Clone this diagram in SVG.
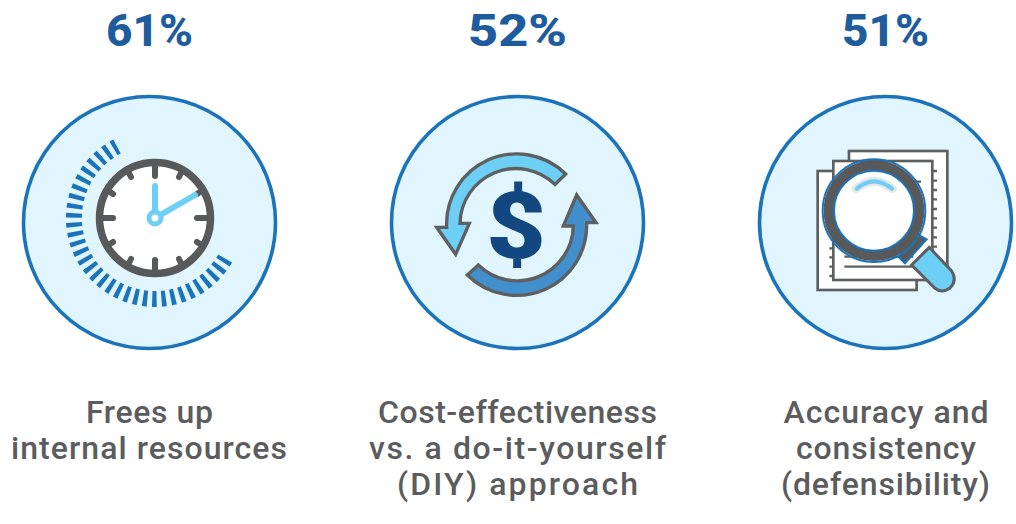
<svg xmlns="http://www.w3.org/2000/svg" width="1016" height="524" viewBox="0 0 1016 524">
<style>
.pct{font-family:Roboto,"Liberation Sans",sans-serif;font-weight:800;font-size:44px;fill:#1f5c9e;text-anchor:middle}
.lbl{font-family:Roboto,"Liberation Sans",sans-serif;font-weight:500;font-size:32px;fill:#5b5c5e;text-anchor:middle}
.disc{fill:#e0f5fd;stroke:#1a73bb;stroke-width:3.6}
.arrow{stroke:#5d5f61;stroke-width:10;stroke-linejoin:miter}
.paper{fill:#fff;stroke:#5d5f61;stroke-width:8}
.ln{stroke:#5d5f61;stroke-width:7;fill:none}
</style>
<rect width="1016" height="524" fill="#fff"/>
<g id="node-resources">
<text class="pct" x="149.500" y="46" textLength="87" lengthAdjust="spacingAndGlyphs">61%</text>
<circle class="disc" cx="149.500" cy="222.500" r="126"/>
<path d="M225.100 258.500A81 81 0 1 1 117 146.500" fill="none" stroke="#1a73bb" stroke-width="16" stroke-dasharray="4.4 4.83"/>
<circle cx="155" cy="218" r="55.500" fill="#fff" stroke="#58595b" stroke-width="7.500"/>
<g stroke="#58595b" stroke-width="6" stroke-linecap="round" fill="none">
<path d="M155 166V176M155 260V270M103 218H113M197 218H207"/>
<path d="M129 173L131 177M181 173L179 177M110 192L113 194M200 192L197 194M110 244L113 242M200 244L197 242M129 263L131 259M181 263L179 259"/>
</g>
<path d="M155 186V218L195 195" fill="none" stroke="#6dcff6" stroke-width="6" stroke-linecap="round"/>
<circle cx="155" cy="218" r="6" fill="#fff" stroke="#6dcff6" stroke-width="5"/>
<text class="lbl" x="149.500" y="423" textLength="127" lengthAdjust="spacing">Frees up</text>
<text class="lbl" x="149" y="459" textLength="276" lengthAdjust="spacing">internal resources</text>
</g>
<g id="node-cost">
<text class="pct" x="517.500" y="46" textLength="99" lengthAdjust="spacingAndGlyphs">52%</text>
<circle class="disc" cx="517.500" cy="222.500" r="126"/>
<g transform="translate(420 140) scale(.3333)">
<path class="arrow" fill="#6dcff6" d="M437 102L405 133A168 168 0 0 0 120 250H148L107 343L50 262H80A210 210 0 0 1 437 102Z"/>
<path class="arrow" fill="#418fcc" d="M142 405L175 375A168 168 0 0 0 460 258H430L470 165L528 248H500A210 210 0 0 1 142 405Z"/>
</g>
<text transform="translate(516.200 258) scale(1.12 1)" font-family="Roboto,'Liberation Sans',sans-serif" font-weight="900" font-size="92" fill="#12487f" text-anchor="middle">$</text>
<text class="lbl" x="517.500" y="423" textLength="279" lengthAdjust="spacing">Cost-effectiveness</text>
<text class="lbl" x="517.500" y="459" textLength="297" lengthAdjust="spacing">vs. a do-it-yourself</text>
<text class="lbl" x="517.500" y="495" textLength="241" lengthAdjust="spacing">(DIY) approach</text>
</g>
<g id="node-accuracy">
<text class="pct" x="885.500" y="46" textLength="87" lengthAdjust="spacingAndGlyphs">51%</text>
<circle class="disc" cx="885.500" cy="222.500" r="126"/>
<g transform="translate(800 140) scale(.3333)">
<rect class="paper" x="147" y="33" width="295" height="357"/>
<path class="ln" d="M397 93H411M397 122H411M397 150H411M397 178H411M397 207H411M397 235H411M397 263H411M397 292H411M397 320H411"/>
<rect class="paper" x="53" y="93" width="297" height="357"/>
<rect class="paper" x="100" y="63" width="297" height="357"/>
<path class="ln" d="M88 325H100M88 352H100M88 380H100M88 408H100M133 125H363M133 350H340M133 380H340"/>
<path d="M388 322L335 375L405 445Q428 462 452 442Q472 420 455 393Z" fill="#6dcff6" stroke="#5d5f61" stroke-width="9"/>
<path d="M355 285L380 298L315 370L295 350Z" fill="#58595b" stroke="#1a73bb" stroke-width="6"/>
<circle cx="222" cy="212" r="136" fill="#fff" stroke="#58595b" stroke-width="30"/>
<circle cx="222" cy="212" r="154" fill="none" stroke="#1a73bb" stroke-width="6"/>
<circle cx="222" cy="212" r="120" fill="none" stroke="#1a73bb" stroke-width="6"/>
<path d="M168 147Q222 100 278 147" fill="none" stroke="#e6e7e8" stroke-width="26" stroke-linecap="round"/>
<path d="M170 146Q222 102 276 146" fill="none" stroke="#6dcff6" stroke-width="12" stroke-linecap="round"/>
</g>
<text class="lbl" x="886" y="423" textLength="205" lengthAdjust="spacing">Accuracy and</text>
<text class="lbl" x="886" y="459" textLength="180" lengthAdjust="spacing">consistency</text>
<text class="lbl" x="885.500" y="495" textLength="209" lengthAdjust="spacing">(defensibility)</text>
</g>
</svg>
